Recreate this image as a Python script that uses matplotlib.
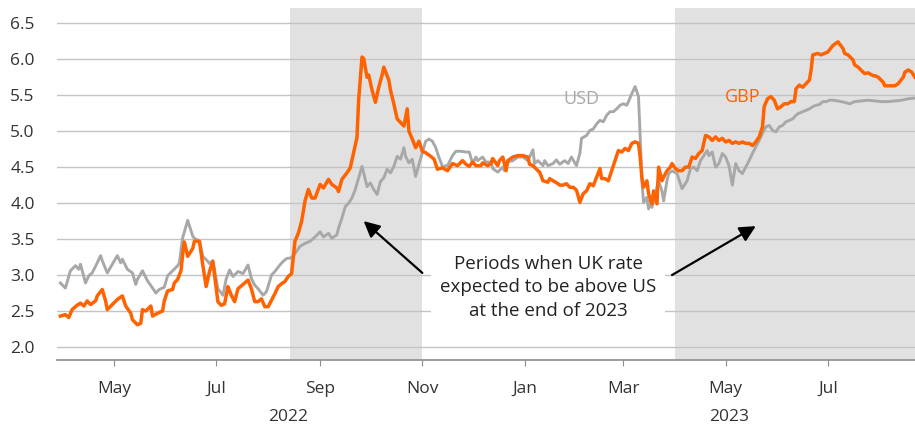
import pandas as pd
import matplotlib
matplotlib.use("Agg")
import matplotlib.pyplot as plt
import matplotlib.dates as mdates
import matplotlib.transforms as mtransforms

plt.rcParams["font.family"] = ["Open Sans", "DejaVu Sans"]

# day offsets from START
START = pd.Timestamp("2022-03-28")

usd_day = [2, 5, 8, 11, 13, 14, 17, 19, 21, 24, 26, 27, 30, 33, 36, 38, 39, 42, 45, 47, 48, 51, 54, 57, 59,
           61, 64, 66, 69, 72, 73, 75, 78, 81, 82, 85, 87, 90, 91, 93, 96, 99, 101, 103, 105, 108, 111, 114,
           116, 118, 120, 123, 125, 128, 130, 133, 135, 137, 140, 142, 145, 148, 151, 154, 157, 159, 162, 164,
           167, 168, 170, 172, 174, 176, 178, 180, 182, 183, 185, 187, 189, 191, 193, 195, 197, 199, 201, 203,
           205, 207, 208, 210, 212, 214, 216, 218, 220, 222, 224, 226, 228, 230, 233, 236, 238, 241, 244, 246,
           248, 250, 251, 254, 256, 259, 260, 263, 266, 267, 269, 272, 275, 278, 281, 282, 284, 285, 287, 290,
           291, 293, 296, 298, 300, 303, 305, 307, 310, 312, 313, 316, 318, 320, 322, 324, 326, 328, 330, 332,
           334, 336, 338, 340, 341, 343, 345, 347, 348, 349, 350, 352, 353, 354, 355, 357, 359, 361, 362, 364,
           365, 367, 370, 371, 373, 376, 378, 380, 382, 384, 386, 388, 389, 391, 393, 395, 397, 399, 401, 403,
           405, 407, 409, 411, 413, 415, 417, 419, 421, 423, 425, 427, 429, 431, 433, 435, 437, 439, 441, 442,
           445, 447, 449, 451, 453, 455, 457, 459, 461, 463, 466, 470, 473, 476, 480, 484, 488, 492, 496, 500,
           504, 508, 512]
usd_rate = [2.89, 2.82, 3.06, 3.13, 3.08, 3.15, 2.89, 2.99, 3.03, 3.17, 3.27, 3.20, 3.03, 3.15, 3.27, 3.17,
            3.22, 3.08, 3.03, 2.87, 2.94, 3.06, 2.92, 2.82, 2.75, 2.80, 2.83, 2.99, 3.06, 3.13, 3.17, 3.52,
            3.76, 3.54, 3.51, 3.47, 3.26, 3.19, 3.16, 3.20, 2.81, 2.72, 2.95, 3.07, 2.98, 3.05, 3.02, 3.14,
            2.95, 2.86, 2.81, 2.72, 2.77, 3.00, 3.05, 3.14, 3.19, 3.23, 3.24, 3.30, 3.40, 3.44, 3.47, 3.53,
            3.60, 3.53, 3.58, 3.51, 3.56, 3.65, 3.79, 3.95, 4.00, 4.07, 4.19, 4.35, 4.51, 4.42, 4.23, 4.28,
            4.19, 4.12, 4.30, 4.35, 4.47, 4.42, 4.51, 4.65, 4.61, 4.77, 4.65, 4.56, 4.61, 4.37, 4.54, 4.70,
            4.86, 4.89, 4.86, 4.77, 4.63, 4.51, 4.52, 4.66, 4.72, 4.72, 4.71, 4.71, 4.55, 4.64, 4.59, 4.64,
            4.57, 4.57, 4.48, 4.43, 4.50, 4.45, 4.57, 4.59, 4.64, 4.64, 4.59, 4.64, 4.74, 4.55, 4.59, 4.52,
            4.59, 4.52, 4.55, 4.60, 4.54, 4.59, 4.55, 4.64, 4.52, 4.69, 4.90, 4.94, 5.01, 5.03, 5.10, 5.15,
            5.13, 5.22, 5.27, 5.27, 5.31, 5.36, 5.38, 5.36, 5.41, 5.52, 5.62, 5.48, 4.92, 4.31, 4.01, 4.08,
            3.92, 4.03, 3.94, 4.13, 4.31, 4.17, 4.03, 4.31, 4.41, 4.45, 4.41, 4.34, 4.20, 4.31, 4.48, 4.50,
            4.45, 4.59, 4.66, 4.73, 4.66, 4.71, 4.50, 4.55, 4.69, 4.64, 4.52, 4.25, 4.55, 4.45, 4.41, 4.50,
            4.59, 4.69, 4.78, 4.87, 4.97, 5.06, 5.08, 5.01, 4.99, 5.06, 5.08, 5.13, 5.15, 5.17, 5.22, 5.24,
            5.27, 5.29, 5.31, 5.34, 5.36, 5.37, 5.41, 5.41, 5.43, 5.43, 5.42, 5.40, 5.38, 5.41, 5.42, 5.43,
            5.42, 5.41, 5.41, 5.42, 5.43, 5.45, 5.46]

gbp_day = [2, 5, 7, 9, 12, 14, 16, 18, 20, 23, 24, 27, 29, 30, 33, 36, 39, 41, 44, 45, 48, 50, 51, 53, 56,
           57, 60, 63, 64, 66, 69, 70, 72, 74, 75, 76, 78, 81, 82, 85, 87, 89, 91, 93, 94, 96, 98, 100, 102,
           104, 106, 108, 111, 114, 116, 118, 120, 122, 124, 126, 128, 130, 132, 134, 136, 138, 140, 142, 144,
           146, 148, 150, 152, 154, 157, 159, 162, 164, 167, 168, 170, 173, 175, 177, 179, 180, 182, 183, 185,
           186, 188, 190, 192, 194, 195, 198, 199, 201, 203, 205, 207, 209, 210, 212, 214, 216, 218, 220, 223,
           225, 227, 230, 233, 236, 239, 242, 244, 246, 248, 250, 253, 254, 257, 259, 260, 263, 264, 266, 268,
           269, 272, 275, 278, 281, 282, 284, 287, 288, 290, 293, 294, 296, 299, 300, 302, 304, 306, 308, 310,
           312, 314, 316, 318, 320, 322, 324, 325, 327, 329, 331, 333, 335, 337, 339, 341, 343, 345, 347, 348,
           349, 350, 352, 353, 355, 356, 358, 359, 361, 362, 364, 366, 367, 369, 371, 373, 375, 377, 379, 381,
           383, 385, 387, 389, 391, 393, 395, 397, 399, 401, 403, 405, 407, 409, 411, 413, 415, 417, 419, 421,
           422, 424, 426, 428, 430, 432, 434, 436, 438, 440, 441, 443, 445, 447, 449, 450, 451, 454, 456, 458,
           460, 461, 463, 466, 469, 470, 472, 475, 476, 478, 481, 482, 484, 487, 488, 490, 493, 494, 496, 499,
           500, 502, 505, 506, 508, 510, 512]
gbp_rate = [2.43, 2.45, 2.41, 2.52, 2.58, 2.61, 2.57, 2.64, 2.59, 2.64, 2.71, 2.80, 2.64, 2.52, 2.59, 2.66,
            2.71, 2.57, 2.47, 2.38, 2.31, 2.33, 2.52, 2.50, 2.57, 2.43, 2.47, 2.50, 2.64, 2.78, 2.80, 2.89,
            2.94, 3.06, 3.29, 3.46, 3.26, 3.37, 3.47, 3.47, 3.14, 2.84, 3.05, 3.19, 3.00, 2.63, 2.58, 2.60,
            2.84, 2.72, 2.63, 2.81, 2.87, 2.93, 2.81, 2.63, 2.63, 2.67, 2.56, 2.56, 2.65, 2.74, 2.84, 2.88,
            2.91, 2.98, 3.02, 3.47, 3.58, 3.75, 4.03, 4.19, 4.07, 4.07, 4.26, 4.21, 4.33, 4.26, 4.21, 4.16,
            4.33, 4.42, 4.49, 4.70, 4.91, 5.43, 6.03, 6.01, 5.75, 5.78, 5.57, 5.40, 5.61, 5.78, 5.89, 5.71,
            5.57, 5.38, 5.17, 5.12, 5.07, 5.31, 5.00, 4.89, 4.77, 4.86, 4.72, 4.70, 4.65, 4.61, 4.47, 4.49,
            4.45, 4.55, 4.52, 4.59, 4.54, 4.51, 4.57, 4.52, 4.52, 4.56, 4.52, 4.55, 4.62, 4.52, 4.59, 4.64,
            4.45, 4.59, 4.64, 4.66, 4.66, 4.64, 4.54, 4.52, 4.45, 4.43, 4.31, 4.29, 4.34, 4.31, 4.27, 4.25,
            4.25, 4.27, 4.22, 4.22, 4.18, 4.01, 4.13, 4.17, 4.27, 4.24, 4.36, 4.48, 4.34, 4.34, 4.31, 4.45,
            4.59, 4.73, 4.71, 4.76, 4.73, 4.83, 4.85, 4.83, 4.64, 4.36, 4.22, 4.31, 4.13, 3.99, 4.17, 3.99,
            4.50, 4.31, 4.36, 4.45, 4.50, 4.55, 4.48, 4.45, 4.45, 4.50, 4.50, 4.64, 4.62, 4.69, 4.73, 4.94,
            4.92, 4.87, 4.92, 4.87, 4.90, 4.85, 4.87, 4.83, 4.85, 4.83, 4.85, 4.83, 4.83, 4.80, 4.85, 4.92,
            5.06, 5.34, 5.45, 5.48, 5.43, 5.31, 5.34, 5.38, 5.38, 5.41, 5.41, 5.59, 5.64, 5.61, 5.66, 5.71,
            5.85, 6.06, 6.08, 6.06, 6.08, 6.10, 6.13, 6.19, 6.24, 6.15, 6.08, 6.06, 5.99, 5.92, 5.89, 5.82,
            5.80, 5.81, 5.77, 5.77, 5.75, 5.68, 5.63, 5.63, 5.63, 5.63, 5.66, 5.75, 5.82, 5.85, 5.82, 5.75]

# periods when UK rate expected above US
shade_periods = [("2022-08-14", "2022-11-01"), ("2023-04-01", "2023-08-31")]

month_ticks = ["2022-05-01", "2022-07-01", "2022-09-01", "2022-11-01",
               "2023-01-01", "2023-03-01", "2023-05-01", "2023-07-01"]
year_labels = [("2022-08-13", "2022"), ("2023-05-03", "2023")]

ORANGE = "#ff6200"
GREY = "#a8a8a8"

usd_dates = START + pd.to_timedelta(usd_day, unit="D")
gbp_dates = START + pd.to_timedelta(gbp_day, unit="D")

fig = plt.figure(figsize=(9.15, 4.25), dpi=100)
ax = fig.add_axes([0.0623, 0.153, 0.9377, 0.828])

for a, b in shade_periods:
    ax.axvspan(pd.Timestamp(a), pd.Timestamp(b), color="#e1e1e1", lw=0, zorder=0)

ax.plot(usd_dates, usd_rate, color=GREY, lw=2.1, zorder=3)
ax.plot(gbp_dates, gbp_rate, color=ORANGE, lw=2.5, zorder=4)

ax.set_xlim(START, pd.Timestamp("2023-08-22"))
ax.set_ylim(1.82, 6.71)
ax.set_yticks([2.0, 2.5, 3.0, 3.5, 4.0, 4.5, 5.0, 5.5, 6.0, 6.5])
ax.yaxis.set_major_formatter(matplotlib.ticker.FormatStrFormatter("%.1f"))
ax.set_xticks(pd.to_datetime(month_ticks))
ax.xaxis.set_major_formatter(mdates.DateFormatter("%b"))

ax.set_axisbelow("line")
ax.grid(axis="y", color="#c4c4c4", lw=1)
ax.grid(axis="x", visible=False)
for s in ["top", "right", "left"]:
    ax.spines[s].set_visible(False)
ax.spines["bottom"].set_color("#8c8c8c")
ax.spines["bottom"].set_linewidth(1.2)
ax.tick_params(axis="y", length=0, pad=16, labelsize=12.5, labelcolor="#333333")
ax.tick_params(axis="x", length=4, color="#8c8c8c", pad=11, labelsize=12.5, labelcolor="#333333")

trans = mtransforms.blended_transform_factory(ax.transData, ax.transAxes)
for d, lab in year_labels:
    ax.text(pd.Timestamp(d), -0.162, lab, transform=trans, ha="center", va="center",
            fontsize=12.5, color="#333333")

ax.text(pd.Timestamp("2023-02-04"), 5.44, "USD", color=GREY, fontsize=13, ha="center", va="center")
ax.text(pd.Timestamp("2023-05-11"), 5.48, "GBP", color=ORANGE, fontsize=13, ha="center", va="center")

ax.text(pd.Timestamp("2023-01-15"), 2.83, "Periods when UK rate\nexpected to be above US\nat the end of 2023",
        ha="center", va="center", fontsize=13.5, color="#222222", linespacing=1.4, zorder=5,
        bbox=dict(facecolor="white", edgecolor="none", boxstyle="square,pad=0.45"))

arrow = dict(arrowstyle="-|>", color="black", lw=1.6, mutation_scale=24, shrinkA=0, shrinkB=0)
ax.annotate("", xy=(pd.Timestamp("2022-09-27"), 3.75), xytext=(pd.Timestamp("2022-11-01"), 3.03),
            arrowprops=arrow, zorder=6)
ax.annotate("", xy=(pd.Timestamp("2023-05-19"), 3.68), xytext=(pd.Timestamp("2023-03-30"), 3.0),
            arrowprops=arrow, zorder=6)

fig.savefig("out.png", dpi=100)
